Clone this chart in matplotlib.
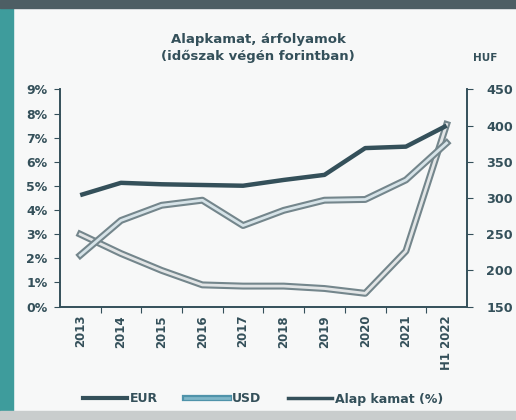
import matplotlib
matplotlib.use("Agg")
import matplotlib.pyplot as plt
import matplotlib.patheffects as pe
from matplotlib.lines import Line2D
from matplotlib.patches import Rectangle

years = ["2013", "2014", "2015", "2016", "2017", "2018", "2019", "2020", "2021", "H1 2022"]
eur = [304, 321, 319, 318, 317, 325, 332, 369, 371, 400]
usd = [221, 269, 290, 297, 262, 283, 297, 298, 325, 376]
base_rate = [3.0, 2.2, 1.5, 0.9, 0.85, 0.85, 0.75, 0.55, 2.3, 7.55]

DARK = "#34505a"
OUTLINE = "#74868c"

plt.rcParams["font.family"] = ["DejaVu Sans"]
plt.rcParams["font.weight"] = "bold"

fig = plt.figure(figsize=(5.16, 4.2), dpi=100, facecolor="#f7f8f8")
# photo edges
fig.patches.append(Rectangle((0, 0), 0.025, 1, transform=fig.transFigure, color="#3e9c9c", zorder=0))
fig.patches.append(Rectangle((0, 0.98), 1, 0.02, transform=fig.transFigure, color="#4d5e64", zorder=0))
fig.patches.append(Rectangle((0, 0), 1, 0.022, transform=fig.transFigure, color="#c9cdcd", zorder=0))

ax = fig.add_axes([0.116, 0.270, 0.789, 0.517])
ax.set_facecolor("none")
ax2 = ax.twinx()

x = range(len(years))

outline = [pe.Stroke(linewidth=5, foreground=OUTLINE), pe.Normal()]

ax2.plot(x, eur, color=DARK, lw=3.2, solid_capstyle="butt")
ax2.plot(x, usd, color="#d6e3e8", lw=2, path_effects=outline)
ax.plot(x, base_rate, color="#e2e5e6", lw=2, path_effects=outline)

ax.set_xlim(-0.5, len(years) - 0.5)
ax.set_ylim(0, 9)
ax.set_yticks(range(0, 10))
ax.set_yticklabels([f"{v}%" for v in range(0, 10)])
ax2.set_ylim(150, 450)
ax2.set_yticks(range(150, 451, 50))

# category axis: ticks between the years, labels on the years
ax.set_xticks([i - 0.5 for i in range(1, len(years))])
ax.set_xticklabels([])
ax.set_xticks(list(x), minor=True)
ax.set_xticklabels(years, minor=True, rotation=90)
ax.tick_params(axis="x", which="minor", length=0, pad=6, labelsize=8.5, colors=DARK)
ax.tick_params(axis="x", which="major", length=4, color=DARK)
ax.tick_params(axis="y", length=4, color=DARK, labelsize=9, labelcolor=DARK, pad=5)
ax2.tick_params(axis="y", length=4, color=DARK, labelsize=9.2, labelcolor=DARK, pad=10)

for a in (ax, ax2):
    a.spines["top"].set_visible(False)
    for s in ("left", "right", "bottom"):
        a.spines[s].set_color(DARK)
        a.spines[s].set_linewidth(1.2)

fig.text(0.5, 0.885, "Alapkamat, árfolyamok\n(időszak végén forintban)", ha="center", va="center",
         fontsize=9.5, fontweight="bold", color=DARK, linespacing=1.35)
fig.text(0.94, 0.862, "HUF", ha="center", va="center", fontsize=7.5, fontweight="bold", color=DARK)

handles = [
    Line2D([], [], color=DARK, lw=3),
    Line2D([], [], color="#7fb6c8", lw=2, path_effects=[pe.Stroke(linewidth=4.5, foreground="#4f93aa"), pe.Normal()]),
    Line2D([], [], color=DARK, lw=2.5),
]
fig.legend(handles, ["EUR", "USD", "Alap kamat (%)"], loc="center", bbox_to_anchor=(0.51, 0.05), ncol=3,
           frameon=False, fontsize=9, handlelength=3.5, handletextpad=0.2, columnspacing=2.2,
           labelcolor=DARK)

fig.savefig("out.png", dpi=100, facecolor=fig.get_facecolor())
